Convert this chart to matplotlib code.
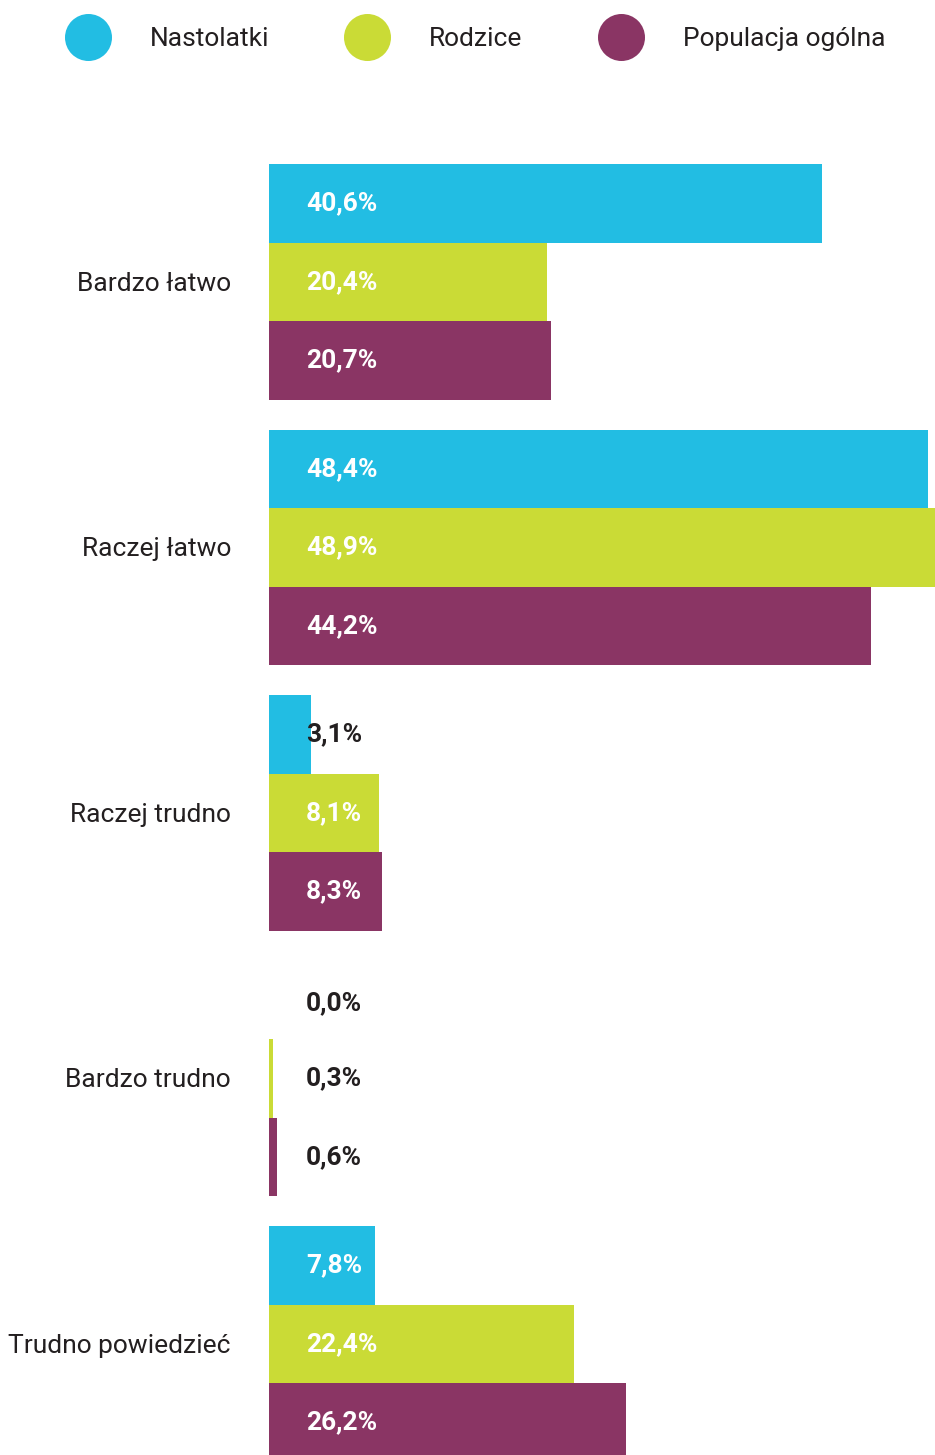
import matplotlib
matplotlib.use("Agg")
import matplotlib.pyplot as plt
from matplotlib.patches import Circle

plt.rcParams['font.family'] = ['Roboto', 'DejaVu Sans']

categories = ["Bardzo łatwo", "Raczej łatwo", "Raczej trudno", "Bardzo trudno", "Trudno powiedzieć"]
series_names = ["Nastolatki", "Rodzice", "Populacja ogólna"]
nastolatki = [40.6, 48.4, 3.1, 0.0, 7.8]
rodzice = [20.4, 48.9, 8.1, 0.3, 22.4]
populacja = [20.7, 44.2, 8.3, 0.6, 26.2]
series_values = [nastolatki, rodzice, populacja]
colors = ["#22BDE3", "#CADB36", "#8A3564"]
dark = "#231F20"

W, H, DPI = 935, 1455, 100
fig = plt.figure(figsize=(W / DPI, H / DPI), dpi=DPI)

# bar axes in pixel layout
ax_left, ax_right = 269, 935
ax_top, ax_bottom = 164, 1455
ax = fig.add_axes([ax_left / W, 1 - ax_bottom / H, (ax_right - ax_left) / W, (ax_bottom - ax_top) / H])
ax.set_axis_off()

px_per_unit = 78.5
group_step = 265.5 / px_per_unit
ax.set_xlim(0, 48.9)
ax.set_ylim((ax_bottom - ax_top) / px_per_unit - 0.5, -0.5)

px_per_pct = (ax_right - ax_left) / 48.9
label_offset_px = 37
fs_val = 19
pt = 72 / DPI

for gi, cat in enumerate(categories):
    for si, vals in enumerate(series_values):
        y = gi * group_step + si
        v = vals[gi]
        ax.barh(y, v, height=1.0, left=0, color=colors[si], edgecolor='none')
        inside = v * px_per_pct > 60
        dy = -3 if v == 0 else 0
        ax.annotate(f"{v:.1f}".replace(".", ",") + "%", xy=(0, y),
                    xytext=(label_offset_px * pt, dy * pt), textcoords='offset points',
                    ha='left', va='center', fontsize=fs_val, fontweight='bold',
                    color='white' if inside else dark, annotation_clip=False)
    ymid = gi * group_step + 1
    ax.annotate(cat, xy=(0, ymid), xytext=(-(269 - 231) * pt, -2 * pt),
                textcoords='offset points', ha='right', va='center',
                fontsize=19, color=dark, annotation_clip=False)

# legend in pixel coordinates
lax = fig.add_axes([0, 0, 1, 1])
lax.set_xlim(0, W)
lax.set_ylim(H, 0)
lax.set_axis_off()
lax.patch.set_alpha(0)
leg_circles = [88.5, 367.5, 621.5]
leg_text = [150, 429, 683]
for name, c, cx, tx in zip(series_names, colors, leg_circles, leg_text):
    lax.add_patch(Circle((cx, 37.5), 23.5, color=c, ec='none'))
    lax.text(tx, 39, name, ha='left', va='center', fontsize=19, color=dark)

fig.savefig("out.png", dpi=DPI)
